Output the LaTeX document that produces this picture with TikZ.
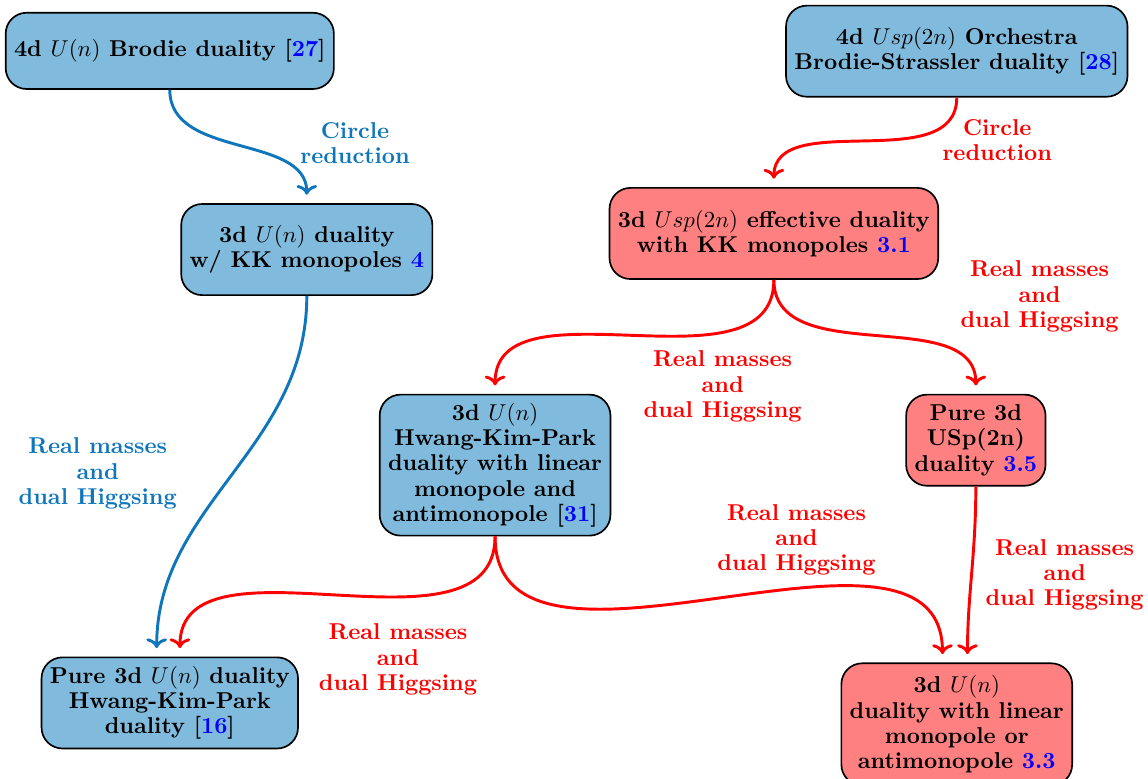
\documentclass[tikz,border=0pt]{standalone}
\usepackage{amsmath,amssymb}
\usepackage{xcolor}
\usepackage{tikz}
\usetikzlibrary{arrows.meta,positioning}
\definecolor{boxblue}{HTML}{80BADC}
\definecolor{boxred}{HTML}{FF8080}
\definecolor{lineblue}{HTML}{0F76BC}
\newcommand{\diagfont}{\fontsize{10.95}{12.1}\selectfont\bfseries}

\begin{document}
\begin{tikzpicture}[
    bluebox/.style={rectangle, draw=black, thick, fill=boxblue, rounded corners=10pt,
                    inner xsep=4pt, inner ysep=4pt, minimum height=1.53cm,
                    font=\diagfont, align=center, anchor=north},
    redbox/.style={bluebox, fill=boxred},
    bluearr/.style={->, line width=1.4pt, lineblue, shorten >=4pt},
    redarr/.style={->, line width=1.4pt, red, shorten >=4pt},
    bluelbl/.style={font=\diagfont, text=lineblue, align=center},
    redlbl/.style={font=\diagfont, text=red, align=center}
]
\useasboundingbox (0,0) rectangle (19.27,-13.06);

% boxes
\node[bluebox, minimum height=1.28cm] (brodie) at (2.85,-0.20)
  {4d $U(n)$ Brodie duality [\textcolor{blue}{27}]};
\node[bluebox] (orch) at (16.06,-0.08)
  {4d $Usp(2n)$ Orchestra\\Brodie-Strassler duality [\textcolor{blue}{28}]};
\node[bluebox] (kku) at (5.15,-3.41)
  {3d $U(n)$ duality\\w/ KK monopoles \textcolor{blue}{4}};
\node[redbox] (kkusp) at (12.99,-3.14)
  {3d $Usp(2n)$ effective duality\\with KK monopoles \textcolor{blue}{3.1}};
\node[bluebox] (hkp) at (8.31,-6.61)
  {3d $U(n)$\\Hwang-Kim-Park\\duality with linear\\monopole and\\antimonopole [\textcolor{blue}{31}]};
\node[redbox] (pureusp) at (16.38,-6.61)
  {Pure 3d\\USp(2n)\\duality \textcolor{blue}{3.5}};
\node[bluebox] (pureu) at (2.85,-11.02)
  {Pure 3d $U(n)$ duality\\Hwang-Kim-Park\\duality [\textcolor{blue}{16}]};
\node[redbox, minimum height=2.05cm] (linu) at (16.06,-11.12)
  {3d $U(n)$\\duality with linear\\monopole or\\antimonopole \textcolor{blue}{3.3}};

% arrows
\draw[bluearr] (brodie.south) to[out=-90, in=90] (kku.north);
\draw[redarr] (orch.south) to[out=-90, in=90] (kkusp.north);
\draw[redarr] (kkusp.south) to[out=-90, in=90] (hkp.north);
\draw[redarr] (kkusp.south) to[out=-90, in=90] (pureusp.north);
\draw[bluearr] (kku.south) to[out=-90, in=90] ([xshift=-0.22cm]pureu.north);
\draw[redarr] (hkp.south) to[out=-90, in=90] ([xshift=0.17cm]pureu.north);
\draw[redarr] (hkp.south) to[out=-90, in=90] ([xshift=-0.24cm]linu.north);
\draw[redarr] (pureusp.south) to[out=-90, in=90] ([xshift=0.18cm]linu.north);

% labels
\node[bluelbl] (l1) at (5.96,-2.40) {Circle\\reduction};
\node[redlbl] (l2) at (16.74,-2.35) {Circle\\reduction};
\node[redlbl] (l3) at (12.13,-6.49) {Real masses\\and\\dual Higgsing};
\node[redlbl] (l4) at (17.45,-4.98) {Real masses\\and\\dual Higgsing};
\node[bluelbl] (l5) at (1.64,-7.95) {Real masses\\and\\dual Higgsing};
\node[redlbl] (l6) at (6.68,-11.07) {Real masses\\and\\dual Higgsing};
\node[redlbl] (l7) at (13.37,-9.06) {Real masses\\and\\dual Higgsing};
\node[redlbl] (l8) at (17.87,-9.65) {Real masses\\and\\dual Higgsing};
\end{tikzpicture}
\end{document}
